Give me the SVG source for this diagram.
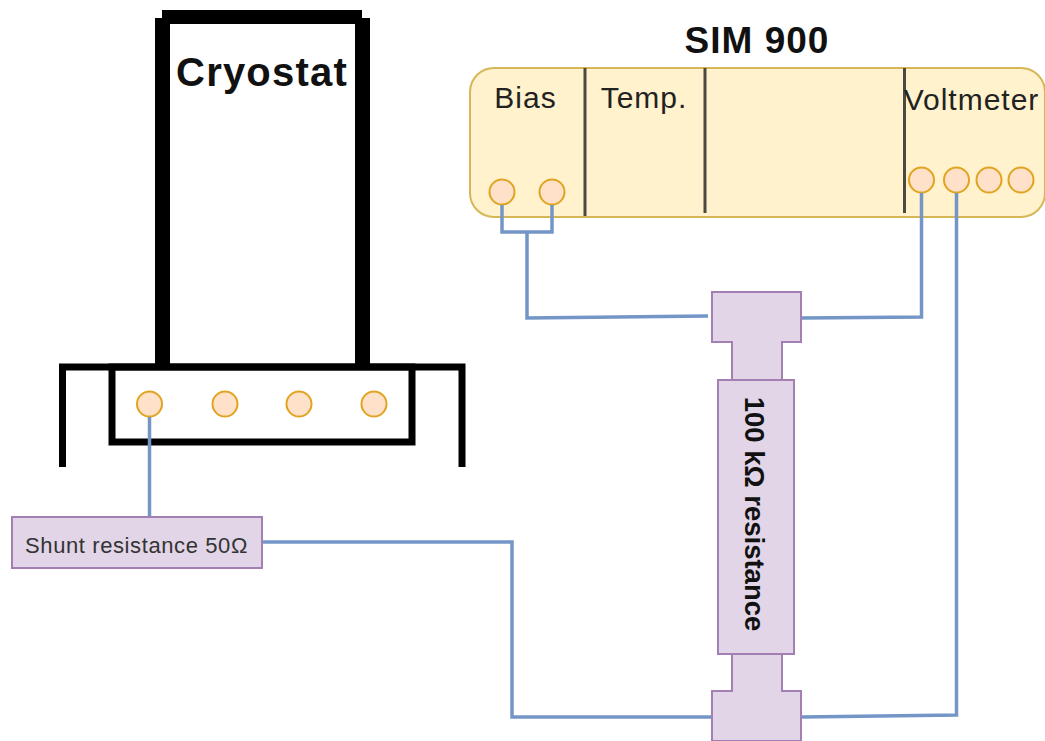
<svg xmlns="http://www.w3.org/2000/svg" width="1045" height="741" viewBox="0 0 1045 741">
<style>
text{font-family:"Liberation Sans",Arial,sans-serif;fill:#111}
.k{fill:none;stroke:#000;stroke-width:7}
.K{fill:none;stroke:#000;stroke-width:15}
.w{fill:none;stroke:#7396c6;stroke-width:3.5}
.d{fill:none;stroke:#4a4a40;stroke-width:3}
.p{fill:#ffe0c8;stroke:#e0a420;stroke-width:2}
.r{fill:#e1d5e7;stroke:#a47fb4;stroke-width:2}
.l{font-size:30px;letter-spacing:1px;fill:#222}
</style>
<rect width="1045" height="741" fill="#fff"/>
<g id="cryostat">
<path class="K" d="M162.500 364V18M362.500 364V18"/>
<path d="M162 17H362" fill="none" stroke="#000" stroke-width="14"/>
<text x="262" y="86" font-size="40" font-weight="bold" letter-spacing="1.200" text-anchor="middle">Cryostat</text>
</g>
<g id="base">
<path class="k" d="M62.500 467V367H462V467"/>
<rect class="k" x="112" y="367" width="300" height="75"/>
<circle class="p" cx="149.500" cy="404" r="12.500"/>
<circle class="p" cx="225" cy="404" r="12.500"/>
<circle class="p" cx="299" cy="404" r="12.500"/>
<circle class="p" cx="374" cy="404" r="12.500"/>
</g>
<g id="sim900">
<text x="757" y="53" font-size="37" font-weight="bold" letter-spacing="1" text-anchor="middle">SIM 900</text>
<rect x="470" y="68" width="575" height="149" rx="24" fill="#fff2cc" stroke="#d6b656" stroke-width="2"/>
<path class="d" d="M585 68V216M705 68V213M904.500 68V213"/>
<text class="l" x="525.500" y="108" text-anchor="middle">Bias</text>
<text class="l" x="644" y="108" text-anchor="middle">Temp.</text>
<text class="l" x="971.500" y="110" text-anchor="middle">Voltmeter</text>
<circle class="p" cx="502" cy="192" r="12.500"/>
<circle class="p" cx="552" cy="192" r="12.500"/>
<circle class="p" cx="921.500" cy="180" r="12.500"/>
<circle class="p" cx="956.500" cy="180" r="12.500"/>
<circle class="p" cx="989" cy="180" r="12.500"/>
<circle class="p" cx="1021" cy="180" r="12.500"/>
</g>
<g id="connectors">
<path class="w" d="M502 205V232H552V205M527 232V318L708 316"/>
<path class="w" d="M802 318L921.500 317V193"/>
<path class="w" d="M956.500 193V715L802 717"/>
<path class="w" d="M149.500 417V517"/>
<path class="w" d="M263 542H512V717H712"/>
</g>
<g id="resistor-100k">
<path class="r" d="M712 292H801V342H782V380H794V654H782V691H801V741H712V691H732V654H718V380H732V342H712Z"/>
<path class="r" d="M718 380H794V654H718Z"/>
<text transform="translate(752 514) rotate(90)" font-size="27.500" font-weight="bold" text-anchor="middle" dominant-baseline="middle">100 kΩ resistance</text>
</g>
<g id="shunt">
<rect class="r" x="12" y="517" width="250" height="51"/>
<text x="136.500" y="553" font-size="22" letter-spacing="0.600" text-anchor="middle" style="fill:#333">Shunt resistance 50Ω</text>
</g>
</svg>
